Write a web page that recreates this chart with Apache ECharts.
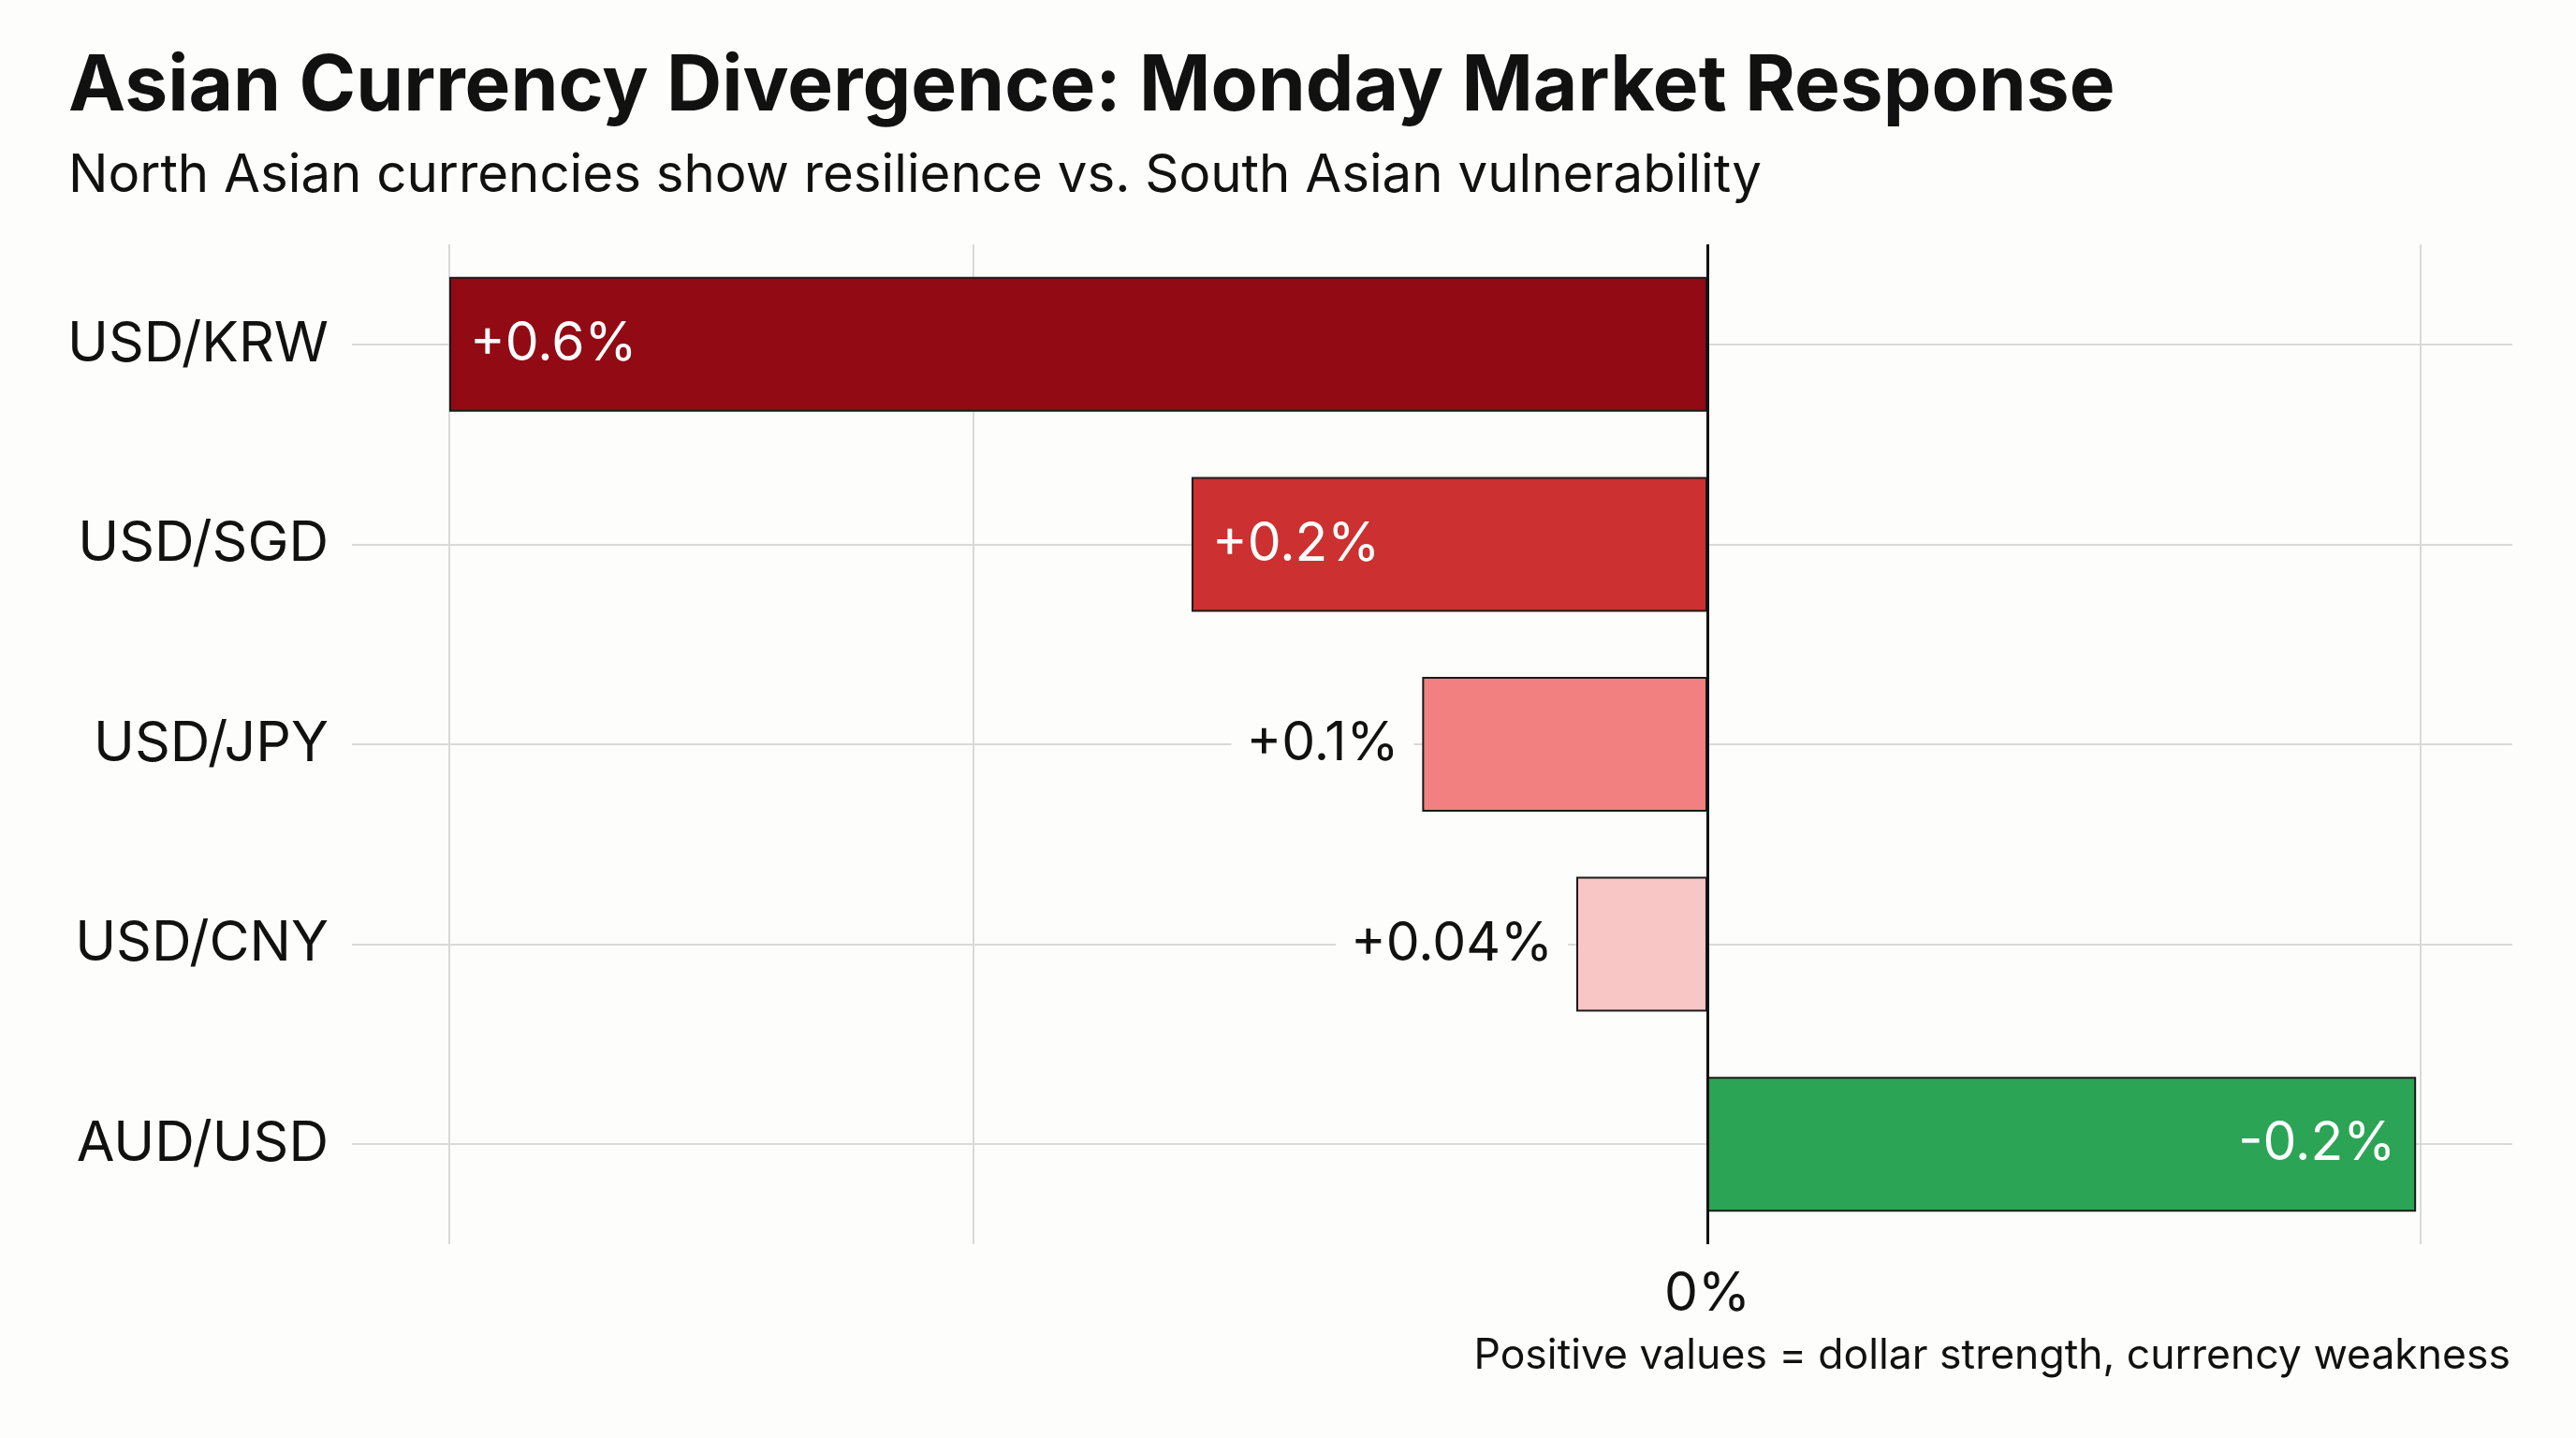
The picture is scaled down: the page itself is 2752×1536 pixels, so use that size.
<!DOCTYPE html>
<html>
<head>
<meta charset="utf-8">
<script src="https://cdn.jsdelivr.net/npm/echarts@6/dist/echarts.min.js"></script>
<style>
html,body{margin:0;padding:0;background:#fdfdfb;}
#chart{width:2752px;height:1536px;}
</style>
</head>
<body>
<div id="chart"></div>
<script>
// ---- data ----
const categories = ['USD/KRW', 'USD/SGD', 'USD/JPY', 'USD/CNY', 'AUD/USD'];
const values = [0.6, 0.246, 0.136, 0.0625, -0.338];           // bar lengths as drawn
const valueLabels = ['+0.6%', '+0.2%', '+0.1%', '+0.04%', '-0.2%'];
const barColors = ['#920a14', '#cc3030', '#f28080', '#f9c6c6', '#2ca455'];
const axisTickValues = [0];
const verticalGridValues = [0.6, 0.3545, -0.338];
const titleText = 'Asian Currency Divergence: Monday Market Response';
const subtitleText = 'North Asian currencies show resilience vs. South Asian vulnerability';
const footnoteText = 'Positive values = dollar strength, currency weakness';

const FONT = 'Inter, "Noto Sans", sans-serif';
const BG = '#fdfdfb';

// label placement per bar: inside for dark bars, outside for light bars
const labelModes = ['insideLeft', 'insideLeft', 'left', 'left', 'insideRight'];

const chart = echarts.init(document.getElementById('chart'));

const barData = values.map((v, i) => {
  const mode = labelModes[i];
  const inside = mode.indexOf('inside') === 0;
  return {
    value: v,
    itemStyle: { color: barColors[i] },
    label: {
      show: true,
      position: mode,
      distance: inside ? 22 : 9,
      formatter: valueLabels[i],
      color: inside ? '#ffffff' : '#111111',
      backgroundColor: inside ? 'transparent' : BG,
      padding: inside ? [14, 0, 0, 0] : [14, 16, 0, 16],
      fontSize: 57,
      fontFamily: FONT
    }
  };
});

const option = {
  backgroundColor: BG,
  animation: false,
  title: [
    {
      text: titleText, left: 68, top: 47,
      textStyle: { fontFamily: FONT, fontWeight: 'bold', fontSize: 82, lineHeight: 82, color: '#111' }
    },
    {
      text: subtitleText, left: 68, top: 155,
      textStyle: { fontFamily: FONT, fontWeight: 'normal', fontSize: 56.4, lineHeight: 56, color: '#111' }
    }
  ],
  graphic: [
    {
      type: 'text', right: 70, top: 1426,
      style: { text: footnoteText, fontFamily: FONT, fontSize: 44.5, fill: '#111', align: 'right' }
    }
  ],
  grid: { left: 376, right: 68, top: 261, bottom: 207, containLabel: false },
  xAxis: {
    type: 'value',
    inverse: true,
    min: -0.3839,
    max: 0.6464,
    axisLine: { show: false },
    axisTick: { show: false },
    splitLine: { show: false },
    axisLabel: {
      customValues: axisTickValues,
      formatter: v => (Math.abs(v) < 1e-9 ? '0%' : ''),
      fontSize: 57, fontFamily: FONT, color: '#111', margin: 25
    }
  },
  yAxis: {
    type: 'category',
    inverse: true,
    data: categories,
    axisLine: { show: false },
    axisTick: { show: false },
    splitLine: { show: false },
    axisLabel: { fontSize: 59, fontFamily: FONT, color: '#111', margin: 25, padding: [16, 0, 0, 0] }
  },
  series: [
    {
      // grid lines behind the bars
      type: 'line',
      data: [],
      z: 1,
      silent: true,
      markLine: {
        z: 1,
        silent: true,
        symbol: ['none', 'none'],
        label: { show: false },
        lineStyle: { color: '#d9d9d9', width: 2, type: 'solid' },
        data: categories.map(c => ({ yAxis: c })).concat(verticalGridValues.map(v => ({ xAxis: v })))
      }
    },
    {
      type: 'bar',
      data: barData,
      z: 3,
      barCategoryGap: '32.6%',
      itemStyle: { borderColor: '#1a1a1a', borderWidth: 2 },
      markLine: {
        z: 10,
        silent: true,
        symbol: ['none', 'none'],
        label: { show: false },
        lineStyle: { color: '#111', width: 3, type: 'solid' },
        data: [{ xAxis: 0 }]
      }
    }
  ]
};

chart.setOption(option);
</script>
</body>
</html>
